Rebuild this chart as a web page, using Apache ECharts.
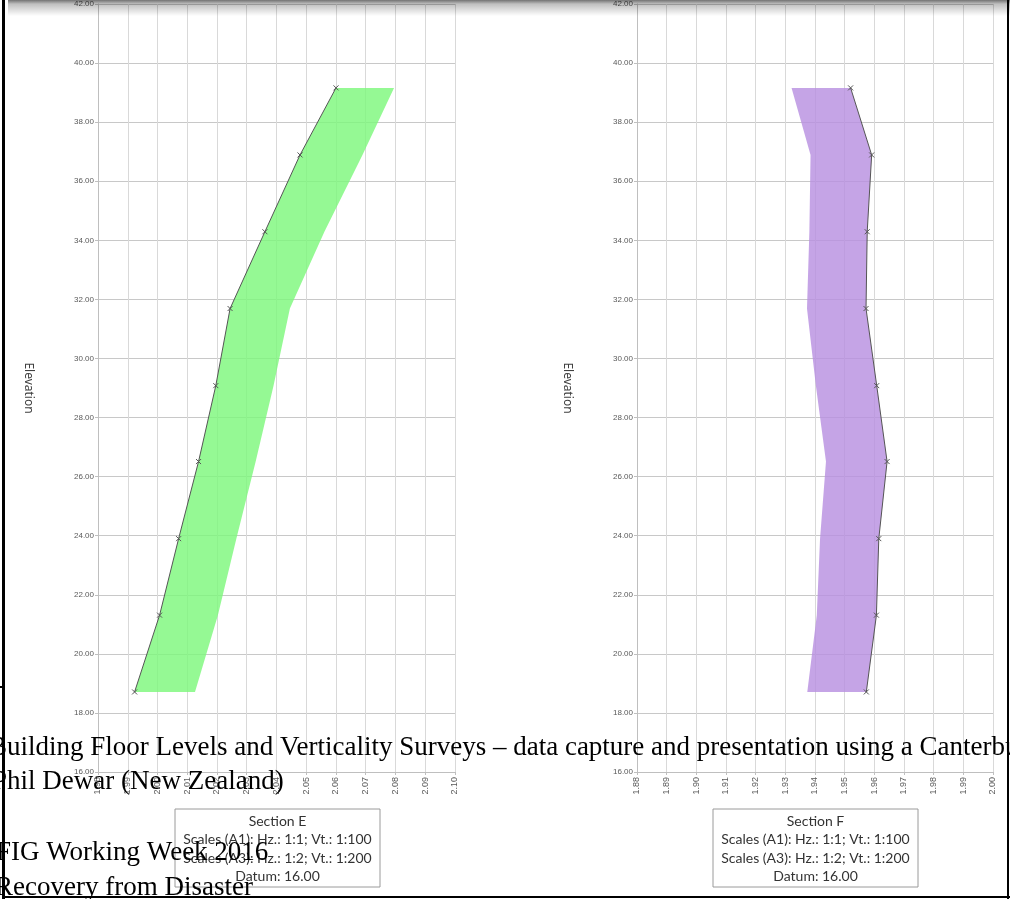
<!DOCTYPE html>
<html>
<head>
    <meta charset="utf-8">
    <title>Section E / Section F</title>
    <script type="text/javascript" src="https://cdn.jsdelivr.net/npm/echarts@6/dist/echarts.min.js"></script>
    <style>
        html, body { margin: 0; padding: 0; background: #fff; }
    </style>
</head>
<body>
<div id="main" style="width:1010px;height:899px;"></div>

<script type="text/javascript">
    // floor levels (elevation of each surveyed point)
    var levels = [39.16, 36.89, 34.29, 31.69, 29.08, 26.51, 23.90, 21.31, 18.71];

    // Section E: surveyed offsets and the right edge of the green band
    var offsetE = [2.0600, 2.0479, 2.0361, 2.0244, 2.0196, 2.0138, 2.0071, 2.0007, 1.9923];
    var bandE = [2.0795, 2.0689, 2.0561, 2.0445, 2.0390, 2.0330, 2.0265, 2.0203, 2.0126];

    // Section F: surveyed offsets and the left edge of the purple band
    var offsetF = [1.9520, 1.9591, 1.9576, 1.9572, 1.9608, 1.9643, 1.9615, 1.9607, 1.9573];
    var bandF = [1.9321, 1.9385, 1.9381, 1.9373, 1.9403, 1.9437, 1.9417, 1.9406, 1.9374];

    // axis ranges
    var xRangeE = [1.98, 2.10];
    var xRangeF = [1.88, 2.00];
    var yRange = [16, 42];

    var legendE = ['Section E', 'Scales (A1): Hz.: 1:1; Vt.: 1:100', 'Scales (A3): Hz.: 1:2; Vt.: 1:200', 'Datum: 16.00'];
    var legendF = ['Section F', 'Scales (A1): Hz.: 1:1; Vt.: 1:100', 'Scales (A3): Hz.: 1:2; Vt.: 1:200', 'Datum: 16.00'];

    var pageText = [
        'Building Floor Levels and Verticality Surveys \u2013 data capture and presentation using a Canterbury',
        'Phil Dewar (New Zealand)',
        'FIG Working Week 2016',
        'Recovery from Disaster'
    ];

    var myChart = echarts.init(document.getElementById('main'));

    function pairs(xs) {
        return xs.map(function (x, i) { return [x, levels[i]]; });
    }

    // band polygon: surveyed line down, other edge back up
    function bandSeries(idx, lineX, edgeX, color) {
        return {
            type: 'custom',
            xAxisIndex: idx,
            yAxisIndex: idx,
            silent: true,
            z: 1,
            data: pairs(lineX),
            renderItem: function (params, api) {
                if (params.dataIndex !== 0) return;
                var pts = [];
                for (var i = 0; i < levels.length; i++) pts.push(api.coord([lineX[i], levels[i]]));
                for (var j = levels.length - 1; j >= 0; j--) pts.push(api.coord([edgeX[j], levels[j]]));
                return {
                    type: 'polygon',
                    shape: { points: pts },
                    style: { fill: color, opacity: 0.82 }
                };
            }
        };
    }

    function lineSeries(idx, xs) {
        return {
            type: 'line',
            xAxisIndex: idx,
            yAxisIndex: idx,
            z: 3,
            data: pairs(xs),
            symbol: 'path://M0,0L10,10M10,0L0,10',
            symbolSize: 5,
            showSymbol: true,
            lineStyle: { color: '#555', width: 1 },
            itemStyle: { color: '#555', borderColor: '#555', borderWidth: 1 }
        };
    }

    function xAxisCfg(idx, range) {
        return {
            type: 'value', gridIndex: idx, min: range[0], max: range[1], interval: 0.01,
            axisLine: { show: true, lineStyle: { color: '#bfbfbf' } },
            axisTick: { show: true, length: 3, lineStyle: { color: '#bfbfbf' } },
            axisLabel: {
                rotate: 90, fontSize: 9, color: '#595959', margin: 5, fontFamily: 'Liberation Sans',
                formatter: function (v) { return v.toFixed(2); }
            },
            splitLine: { show: true, lineStyle: { color: '#d9d9d9', width: 1 } }
        };
    }

    function yAxisCfg(idx) {
        return {
            type: 'value', gridIndex: idx, min: yRange[0], max: yRange[1], interval: 2,
            name: 'Elevation', nameLocation: 'middle', nameRotate: -90, nameGap: 64,
            nameTextStyle: { fontSize: 12, color: '#404040', fontFamily: 'Noto Sans' },
            axisLine: { show: true, lineStyle: { color: '#bfbfbf' } },
            axisTick: { show: true, length: 3, lineStyle: { color: '#bfbfbf' } },
            axisLabel: {
                fontSize: 8, color: '#595959', margin: 4, fontFamily: 'Liberation Sans',
                formatter: function (v) { return v.toFixed(2); }
            },
            splitLine: { show: true, lineStyle: { color: '#c8c8c8', width: 1 } }
        };
    }

    function legendBox(x, y, lines) {
        var kids = [{
            type: 'rect',
            shape: { x: 0, y: 0, width: 205, height: 78 },
            style: { fill: '#fff', stroke: '#9a9a9a', lineWidth: 1 }
        }];
        lines.forEach(function (t, i) {
            kids.push({
                type: 'text',
                x: 102.5, y: 12 + i * 18.5,
                style: {
                    text: t, align: 'center', verticalAlign: 'middle',
                    fontSize: 14, fontFamily: 'Lato', fill: '#333'
                }
            });
        });
        return { type: 'group', x: x, y: y, z: 50, children: kids };
    }

    var pageLines = [[-11, 748], [-8, 782], [-4, 853], [-5, 888]].map(function (p, i) {
        return {
            type: 'text', x: p[0], y: p[1], z: 100,
            style: {
                text: pageText[i], verticalAlign: 'middle', align: 'left',
                fontSize: 27, fontFamily: 'Liberation Serif', fill: '#000'
            }
        };
    });

    var option = {
        animation: false,
        backgroundColor: '#fff',
        grid: [
            { left: 98, right: 555, top: 3, bottom: 127 },
            { left: 637, right: 17, top: 3, bottom: 127 }
        ],
        xAxis: [xAxisCfg(0, xRangeE), xAxisCfg(1, xRangeF)],
        yAxis: [yAxisCfg(0), yAxisCfg(1)],
        series: [
            bandSeries(0, offsetE, bandE, '#7ef87c'),
            lineSeries(0, offsetE),
            bandSeries(1, offsetF, bandF, '#b890e0'),
            lineSeries(1, offsetF)
        ],
        graphic: [
            // window shadow along the top
            {
                type: 'rect', z: 90, shape: { x: 8, y: 0, width: 1002, height: 16 },
                style: {
                    fill: new echarts.graphic.LinearGradient(0, 0, 0, 1, [
                        { offset: 0, color: 'rgba(0,0,0,0.55)' },
                        { offset: 0.25, color: 'rgba(0,0,0,0.25)' },
                        { offset: 1, color: 'rgba(0,0,0,0)' }
                    ])
                }
            },
            // page border
            { type: 'rect', z: 95, shape: { x: 2, y: 0, width: 3, height: 899 }, style: { fill: '#000' } },
            { type: 'rect', z: 95, shape: { x: 2, y: 896, width: 1008, height: 2 }, style: { fill: '#000' } },
            { type: 'rect', z: 95, shape: { x: 1007, y: 0, width: 2, height: 899 }, style: { fill: '#000' } },
            { type: 'rect', z: 95, shape: { x: 0, y: 686, width: 5, height: 2 }, style: { fill: '#000' } },
            legendBox(175, 809, legendE),
            legendBox(713, 809, legendF)
        ].concat(pageLines)
    };

    myChart.setOption(option);
</script>
</body>
</html>
